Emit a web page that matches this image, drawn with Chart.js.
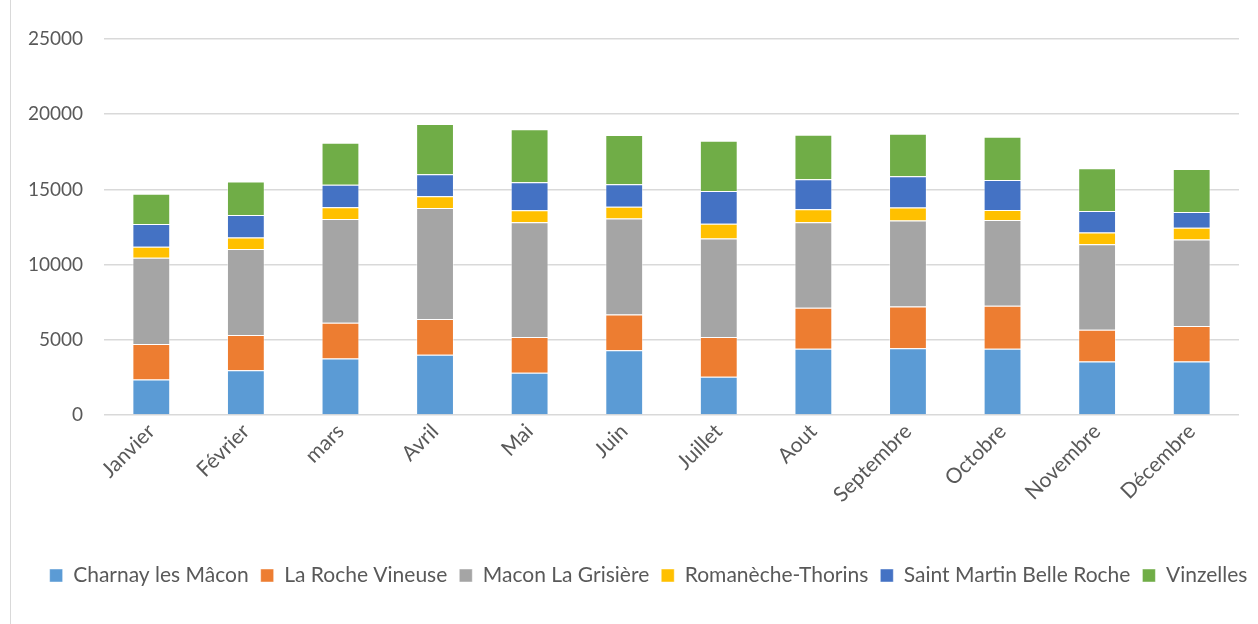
<!DOCTYPE html>
<html>
<head>
<meta charset="utf-8">
<script src="https://cdn.jsdelivr.net/npm/chart.js@4/dist/chart.umd.min.js"></script>
<style>
  html, body { margin: 0; padding: 0; background: #fff; }
  #wrap { position: relative; width: 1258px; height: 624px; }
  #frame { position: absolute; left: 10px; top: 0; width: 0; height: 624px; border-left: 1px solid #d9d9d9; }
  canvas { position: absolute; left: 0; top: 0; }
</style>
</head>
<body>
<div id="wrap">
  <div id="frame"></div>
  <canvas id="c" width="1258" height="624"></canvas>
</div>
<script>
const months = ["Janvier", "Février", "mars", "Avril", "Mai", "Juin", "Juillet", "Aout", "Septembre", "Octobre", "Novembre", "Décembre"];

const charnay     = [2360, 2980, 3760, 4010, 2810, 4300, 2540, 4410, 4430, 4410, 3560, 3560];
const laRoche     = [2355, 2335, 2380, 2380, 2380, 2380, 2650, 2720, 2780, 2850, 2100, 2360];
const maconGris   = [5740, 5715, 6895, 7370, 7620, 6390, 6550, 5680, 5720, 5700, 5700, 5750];
const romaneche   = [730, 780, 780, 780, 800, 780, 980, 870, 870, 670, 780, 780];
const saintMartin = [1510, 1490, 1490, 1470, 1870, 1490, 2180, 2000, 2070, 2000, 1420, 1050];
const vinzelles   = [2020, 2225, 2800, 3340, 3520, 3270, 3340, 2960, 2830, 2870, 2850, 2850];

const seriesNames = ["Charnay les Mâcon", "La Roche Vineuse", "Macon La Grisière", "Romanèche-Thorins", "Saint Martin Belle Roche", "Vinzelles"];
const seriesData = [charnay, laRoche, maconGris, romaneche, saintMartin, vinzelles];
const seriesColors = ["#5B9BD5", "#ED7D31", "#A5A5A5", "#FFC000", "#4472C4", "#70AD47"];

const yTicks = [0, 5000, 10000, 15000, 20000, 25000];

const FONT = "Lato, 'Open Sans', sans-serif";
const TXT = "#595959";

const legendShift = {
  id: "legendShift",
  afterLayout(chart) {
    if (chart.legend) { chart.legend.left += 29; chart.legend.right += 29; }
  }
};

new Chart(document.getElementById("c"), {
  type: "bar",
  plugins: [legendShift],
  data: {
    labels: months,
    datasets: seriesNames.map((n, i) => ({
      label: n,
      data: seriesData[i],
      backgroundColor: seriesColors[i],
      borderColor: "rgba(255,255,255,0.45)",
      borderWidth: 1,
      barPercentage: 0.4,
      categoryPercentage: 1.0
    }))
  },
  options: {
    responsive: false,
    animation: false,
    devicePixelRatio: 1,
    layout: { padding: { top: 39, right: 19, bottom: 28, left: 0 } },
    plugins: {
      tooltip: { enabled: false },
      legend: {
        position: "bottom",
        labels: {
          color: TXT,
          font: { family: FONT, size: 21 },
          boxWidth: 13,
          boxHeight: 13,
          padding: 12
        }
      }
    },
    scales: {
      x: {
        stacked: true,
        grid: { display: false, drawTicks: false },
        border: { display: false },
        ticks: {
          color: TXT,
          font: { family: FONT, size: 21 },
          minRotation: 45,
          maxRotation: 45,
          padding: 4
        },
        afterFit(scale) { scale.height = 138; }
      },
      y: {
        stacked: true,
        min: 0,
        max: 25000,
        afterBuildTicks(scale) { scale.ticks = yTicks.map(v => ({ value: v })); },
        grid: { color: "#d9d9d9", lineWidth: 1.4, drawTicks: false },
        border: { display: false },
        ticks: {
          color: TXT,
          font: { family: FONT, size: 19 },
          padding: 21,
          callback: (v) => String(v)
        },
        afterFit(scale) { scale.width = 104; }
      }
    }
  }
});
</script>
</body>
</html>
